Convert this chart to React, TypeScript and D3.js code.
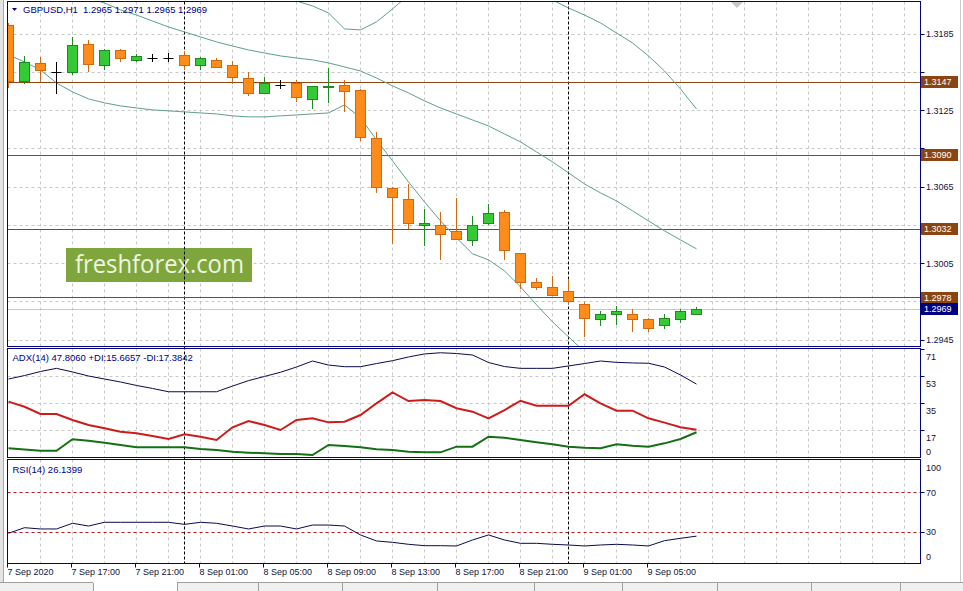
import React from "react";
import * as d3 from "d3";

// ---------- DATA ----------
const opens = [1.3192,1.3148,1.3162,1.3155,1.3155,1.3177,1.3160,1.3172,1.3164,1.3166,1.3166,1.3168,1.3160,1.3164,1.3160,1.3150,1.3138,1.3145,1.3146,1.3134,1.3143,1.3145,1.3141,1.3103,1.3064,1.3055,1.3035,1.3035,1.3030,1.3023,1.3036,1.3045,1.3013,1.2990,1.2986,1.2983,1.2973,1.2961,1.2965,1.2965,1.2961,1.2956,1.2961,1.2965];
const highs = [1.3194,1.3168,1.3167,1.3163,1.3183,1.3180,1.3173,1.3173,1.3169,1.3169,1.3170,1.3171,1.3167,1.3166,1.3164,1.3155,1.3151,1.3149,1.3149,1.3144,1.3158,1.3149,1.3142,1.3108,1.3065,1.3067,1.3048,1.3045,1.3056,1.3042,1.3052,1.3047,1.3013,1.2994,1.2995,1.2992,1.2975,1.2968,1.2972,1.2969,1.2962,1.2965,1.2969,1.2971];
const lows = [1.3143,1.3146,1.3147,1.3138,1.3153,1.3155,1.3157,1.3163,1.3163,1.3163,1.3163,1.3157,1.3157,1.3159,1.3146,1.3136,1.3138,1.3142,1.3132,1.3126,1.3131,1.3124,1.3101,1.3060,1.3020,1.3032,1.3019,1.3008,1.3024,1.3019,1.3035,1.3008,1.2985,1.2984,1.2980,1.2973,1.2947,1.2956,1.2957,1.2951,1.2951,1.2954,1.2958,1.2965];
const closes = [1.3148,1.3163,1.3156,1.3155,1.3176,1.3161,1.3172,1.3166,1.3167,1.3166,1.3166,1.3160,1.3166,1.3159,1.3151,1.3138,1.3146,1.3145,1.3135,1.3144,1.3144,1.3140,1.3104,1.30645,1.3057,1.3036,1.3036,1.3028,1.3024,1.3035,1.3044,1.3015,1.2990,1.2986,1.2980,1.2975,1.2962,1.2965,1.2967,1.2961,1.2954,1.2962,1.2967,1.2969];

const bbUpper = [1.33019,1.32995,1.32979,1.32972,1.32948,1.32925,1.32878,1.32791,1.32729,1.3265,1.32564,1.32493,1.32423,1.32352,1.32305,1.3225,1.32203,1.32148,1.32109,1.3207,1.32015,1.3189,1.31882,1.31945,1.32046,1.32156,1.32195,1.32227,1.32258,1.32274,1.32242,1.32211,1.32188,1.32164,1.32117,1.32054,1.31999,1.31937,1.31858,1.3178,1.31678,1.3156,1.31419,1.31262];
const bbMiddle = [1.32352,1.32313,1.32274,1.32219,1.32172,1.32133,1.32093,1.32039,1.31999,1.31952,1.31905,1.31866,1.31827,1.31788,1.31756,1.31725,1.31701,1.31678,1.31662,1.31647,1.31623,1.31592,1.3156,1.31505,1.31443,1.31388,1.31325,1.3127,1.31223,1.31176,1.31129,1.31066,1.31004,1.30925,1.30847,1.30761,1.30674,1.30604,1.30541,1.30463,1.30384,1.30306,1.30235,1.30165];
const bbLower = [1.31686,1.31631,1.31568,1.31466,1.31396,1.31341,1.3131,1.31286,1.3127,1.31255,1.31247,1.31239,1.31231,1.31223,1.31208,1.312,1.312,1.31208,1.31215,1.31223,1.31231,1.31294,1.31192,1.31019,1.30855,1.3069,1.30533,1.30384,1.30251,1.30126,1.30079,1.29992,1.29867,1.29726,1.29592,1.29475,1.29357,1.29271,1.2924,1.29154,1.29099,1.29083,1.29075,1.29075];

const adxMain = [51.2,53.5,56.2,58.3,55.9,53.2,51.2,49.2,46.9,44.9,42.7,42.7,42.7,42.7,46.5,50.1,52.9,55.7,59.2,63.2,60.5,59.4,59.4,61.5,63.4,65.9,67.9,68.7,68.2,67.2,62.2,59.5,58.3,58.3,58.3,59.9,61.5,63.2,62.3,61.9,61.7,59.2,53.9,47.8];
const plusDI = [5.0,4.2,3.4,3.4,11.0,10.1,8.7,7.2,5.7,5.7,5.7,5.7,4.5,3.9,2.7,2.1,1.7,1.2,1.2,0.5,7.2,6.5,5.7,4.3,3.9,2.7,2.3,2.3,6.1,6.1,12.7,12.1,10.5,9.0,7.7,6.1,5.4,5.0,7.7,6.7,6.1,8.3,11.2,15.7];
const minusDI = [36.1,32.7,27.9,27.9,23.9,20.5,18.3,16.1,15.0,13.2,11.2,14.3,12.7,10.5,19.0,23.2,20.5,17.2,23.9,25.0,22.3,22.7,27.2,35.0,42.3,36.5,37.2,36.5,31.7,29.4,25.0,30.5,36.7,33.4,33.4,33.4,41.0,35.0,30.1,30.1,25.0,22.1,19.0,17.4];
const rsi = [29.0,34.7,33.4,33.4,39.2,36.4,40.2,40.2,40.2,40.2,40.2,38.1,40.2,39.2,36.4,33.4,36.4,36.4,33.4,37.4,37.4,36.4,27.3,21.2,19.8,17.8,16.4,16.4,16.1,22.2,27.3,22.2,18.8,18.8,17.8,17.1,16.1,17.1,17.8,17.1,16.1,21.5,23.9,26.1];

const priceTicks = [1.3185,1.3155,1.3125,1.3095,1.3065,1.3035,1.3005,1.2975,1.2945];
const levels = [1.3147,1.3090,1.3032,1.2978];
const bid = 1.2969;
const timeLabels = ["7 Sep 2020","7 Sep 17:00","7 Sep 21:00","8 Sep 01:00","8 Sep 05:00","8 Sep 09:00","8 Sep 13:00","8 Sep 17:00","8 Sep 21:00","9 Sep 01:00","9 Sep 05:00"];
const timeLabelBars = [0,4,8,12,16,20,24,28,32,36,40];
const separatorBars = [11,35];
const adxTicks = [71,53,35,17,0];
const rsiTicks = [100,70,30,0];
const rsiLevels = [70,30];

// ---------- LAYOUT ----------
const W = 963, H = 591;
const L = 7.5, R = 920.5;
const MT = 1.5, MB = 346.5;
const AT = 348.5, AB = 457.5;
const RT = 459.5, RB = 563.5;
const FONT = "'Liberation Sans', Arial, sans-serif";
const NAVY = "#000080";
const AXT = "#12123a";

const x = d3.scaleLinear().domain([0, 1]).range([8.5, 24.5]);
const yP = d3.scaleLinear().domain([1.2945, 1.3185]).range([340, 34]);
const yA = d3.scaleLinear().domain([0, 71]).range([455.8, 349.3]);
const yR = d3.scaleLinear().domain([0, 100]).range([561.8, 463.5]);
const crisp = (v: number) => Math.round(v - 0.5) + 0.5;

const lineOf = (arr: number[], ys: (v: number) => number) =>
  d3.line<number>().x((_, i) => x(i)).y((v) => ys(v))(arr) || "";

export default function App() {
  const gridXs = d3.range(2, 57, 2).map((i) => x(i));
  const fmt = d3.format(".4f");
  const boxYs = [...levels, bid].map((p) => yP(p));
  // tick labels hidden behind a level box are not drawn (as in the reference)
  const visibleTicks = priceTicks.filter((p) => boxYs.every((by) => Math.abs(by - yP(p)) > 10.5));
  return (
    <div style={{ position: "fixed", left: 0, top: 0, width: W, height: H, background: "#fff" }}>
      <svg width={W} height={H} style={{ display: "block", fontFamily: FONT }}>
        <defs>
          <clipPath id="cMain"><rect x={8} y={2} width={912} height={344} /></clipPath>
          <clipPath id="cAdx"><rect x={8} y={349} width={912} height={108} /></clipPath>
          <clipPath id="cRsi"><rect x={8} y={460} width={912} height={103} /></clipPath>
        </defs>
        <rect x={0} y={0} width={W} height={H} fill="#fff" />
        {/* window edges */}
        <rect x={0} y={0} width={3} height={H} fill="#e4e4e4" />
        <line x1={3.5} x2={3.5} y1={0} y2={583} stroke="#a8a8a8" />
        <line x1={960.5} x2={960.5} y1={0} y2={583} stroke="#c8c8c8" />

        {/* grids */}
        <g stroke="#c8c8c8" strokeDasharray="3,3" strokeWidth={1}>
          {gridXs.map((gx, k) => (
            <g key={k}>
              <line x1={gx} x2={gx} y1={MT} y2={MB} />
              <line x1={gx} x2={gx} y1={AT} y2={AB} />
              <line x1={gx} x2={gx} y1={RT} y2={RB} />
            </g>
          ))}
          {priceTicks.map((p, k) => (
            <line key={"p" + k} x1={L} x2={R} y1={crisp(yP(p))} y2={crisp(yP(p))} />
          ))}
          {adxTicks.filter((v) => v > 0 && v < 71).map((v, k) => (
            <line key={"a" + k} x1={L} x2={R} y1={crisp(yA(v))} y2={crisp(yA(v))} />
          ))}
        </g>

        {/* watermark */}
        <rect x={66} y={248} width={186} height={34} fill="#7ea63d" />
        <text x={75} y={273} fontSize={25} fill="#eef5e2" fontFamily="'Open Sans', 'Noto Sans', sans-serif" textLength={169} lengthAdjust="spacingAndGlyphs">freshforex.com</text>

        {/* RSI levels */}
        <g stroke="#c0141e" strokeDasharray="3,3">
          {rsiLevels.map((v, k) => (
            <line key={k} x1={L} x2={R} y1={crisp(yR(v))} y2={crisp(yR(v))} />
          ))}
        </g>

        {/* period separators */}
        <g stroke="#000" strokeDasharray="3,2">
          {separatorBars.map((b, k) => (
            <line key={k} x1={x(b)} x2={x(b)} y1={MT} y2={RB} />
          ))}
        </g>

        {/* bid line and levels */}
        <line x1={L} x2={R} y1={crisp(yP(bid))} y2={crisp(yP(bid))} stroke="#c8c8c8" />
        <g stroke="#8b4513">
          {levels.map((p, k) => (
            <line key={k} x1={L} x2={R} y1={crisp(yP(p))} y2={crisp(yP(p))} />
          ))}
        </g>

        {/* bands */}
        <g clipPath="url(#cMain)" fill="none" stroke="#5f9f8e" strokeWidth={1}>
          <path d={lineOf(bbUpper, yP)} />
          <path d={lineOf(bbMiddle, yP)} />
          <path d={lineOf(bbLower, yP)} />
        </g>

        {/* candles */}
        <g clipPath="url(#cMain)">
          {opens.map((o, i) => {
            const c = closes[i], h = highs[i], l = lows[i];
            const cx = x(i);
            if (o === c) {
              const yy = crisp(yP(o));
              return (
                <g key={i} stroke="#000">
                  <line x1={cx} x2={cx} y1={Math.round(yP(h))} y2={Math.round(yP(l))} />
                  <line x1={cx - 5} x2={cx + 5} y1={yy} y2={yy} />
                </g>
              );
            }
            const up = c > o;
            const fill = up ? "#35c935" : "#ff8c1a";
            const stroke = up ? "#1f8a1f" : "#d06a12";
            const t = crisp(yP(Math.max(o, c)));
            const b = crisp(yP(Math.min(o, c)));
            return (
              <g key={i}>
                <line x1={cx} x2={cx} y1={Math.round(yP(h))} y2={Math.round(yP(l))} stroke={stroke} />
                <rect x={cx - 5} y={t} width={10} height={Math.max(1, b - t)} fill={fill} stroke={stroke} />
              </g>
            );
          })}
        </g>

        {/* ADX lines */}
        <g clipPath="url(#cAdx)" fill="none">
          <path d={lineOf(adxMain, yA)} stroke="#0a0a50" strokeWidth={1} />
          <path d={lineOf(minusDI, yA)} stroke="#cc1c1c" strokeWidth={2} />
          <path d={lineOf(plusDI, yA)} stroke="#157015" strokeWidth={2} />
        </g>

        {/* RSI line */}
        <g clipPath="url(#cRsi)" fill="none">
          <path d={lineOf(rsi, yR)} stroke="#0a0a50" strokeWidth={1} />
        </g>

        {/* panel borders */}
        <g fill="none" stroke={NAVY}>
          <rect x={L} y={MT} width={R - L} height={MB - MT} />
          <rect x={L} y={AT} width={R - L} height={AB - AT} />
          <rect x={L} y={RT} width={R - L} height={RB - RT} />
        </g>

        {/* chart shift marker */}
        <polygon points="731,2 743,2 737,8" fill="#c8c8c8" />

        {/* headers */}
        <polygon points="12,8 17,8 14.5,11" fill={NAVY} />
        <text x={23} y={13} fontSize={9.5} fill={NAVY}>GBPUSD,H1</text>
        <text x={83} y={13} fontSize={9.5} fill={NAVY}>{`${fmt(opens[43])} ${fmt(highs[43])} ${fmt(lows[43])} ${fmt(closes[43])}`}</text>
        <text x={12.5} y={360.5} fontSize={9.5} fill={NAVY}>{`ADX(14) 47.8060 +DI:15.6657 -DI:17.3842`}</text>
        <text x={12.5} y={473} fontSize={9.5} fill={NAVY}>RSI(14) 26.1399</text>

        {/* price axis */}
        <g>
          {priceTicks.map((p, k) => (
            <line key={k} x1={R} x2={R + 4} y1={crisp(yP(p))} y2={crisp(yP(p))} stroke={NAVY} />
          ))}
        </g>
        <g fontSize={9} fill={AXT}>
          {visibleTicks.map((p, k) => (
            <text key={k} x={926} y={yP(p)} dominantBaseline="central">{fmt(p)}</text>
          ))}
        </g>
        {levels.map((p, k) => (
          <g key={k}>
            <rect x={921} y={Math.round(yP(p)) - 6} width={37} height={12} fill="#8b4513" />
            <text x={924} y={yP(p)} fontSize={9} fill="#fff" dominantBaseline="central">{fmt(p)}</text>
          </g>
        ))}
        <rect x={921} y={Math.round(yP(bid)) - 6} width={37} height={12} fill={NAVY} />
        <text x={924} y={yP(bid)} fontSize={9} fill="#fff" dominantBaseline="central">{fmt(bid)}</text>

        {/* ADX axis */}
        <g fontSize={9} fill={AXT}>
          {adxTicks.map((v, k) => (
            <g key={k}>
              {v > 0 && <line x1={R} x2={R + 4} y1={crisp(yA(v))} y2={crisp(yA(v))} stroke={NAVY} />}
              <text x={926} y={Math.min(yA(v) + 7.5, AB - 5.5)} dominantBaseline="central">{v}</text>
            </g>
          ))}
        </g>

        {/* RSI axis */}
        <g fontSize={9} fill={AXT}>
          {rsiTicks.map((v, k) => (
            <g key={k}>
              {v > 0 && v < 100 && <line x1={R} x2={R + 4} y1={crisp(yR(v))} y2={crisp(yR(v))} stroke={NAVY} />}
              <text x={926} y={Math.max(RT + 8, Math.min(yR(v), RB - 6.5))} dominantBaseline="central">{v}</text>
            </g>
          ))}
        </g>

        {/* time axis */}
        <g fontSize={9} fill={AXT}>
          {timeLabels.map((t, k) => {
            const tx = x(timeLabelBars[k]);
            return (
              <g key={k}>
                <line x1={tx - 1} x2={tx - 1} y1={RB} y2={RB + 4} stroke={NAVY} />
                <text x={tx - 1} y={575}>{t}</text>
              </g>
            );
          })}
        </g>

        {/* bottom tab bar */}
        <rect x={0} y={583} width={93} height={8} fill="#f0f0f0" />
        <rect x={177} y={583} width={786} height={8} fill="#f0f0f0" />
        <g stroke="#a0a0a0">
          <line x1={0} x2={93} y1={582.5} y2={582.5} />
          <line x1={177} x2={963} y1={582.5} y2={582.5} />
          {[93, 177, 258, 342, 437, 534, 622, 717, 811, 900].map((sx, k) => (
            <line key={k} x1={sx + 0.5} x2={sx + 0.5} y1={583} y2={591} />
          ))}
        </g>
      </svg>
    </div>
  );
}
